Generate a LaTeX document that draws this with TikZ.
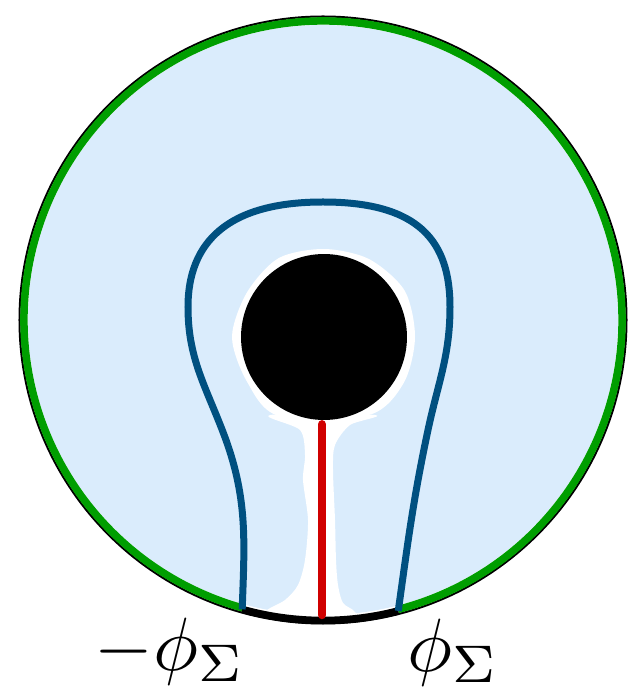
\documentclass[tikz,border=0pt]{standalone}
\definecolor{paleblue}{RGB}{218,236,252}
\definecolor{fluxblue}{RGB}{0,80,128}
\definecolor{rimgreen}{RGB}{0,158,0}
\definecolor{cutred}{RGB}{208,0,0}

\begin{document}
\begin{tikzpicture}[x=0.02cm, y=0.02cm,
    rim/.style={line width=0.15cm, draw=rimgreen},
    flux/.style={line width=0.14cm, draw=fluxblue},
    cutline/.style={line width=0.17cm, draw=cutred, line cap=round},
    lbl/.style={anchor=base, inner sep=0, scale=4.3}]
    \useasboundingbox (-323,320) rectangle (308,-372);
    % shaded region
    \fill[paleblue] (0,0) circle[radius=295];
    \begin{scope}[shift={(1,-17)}]
        \fill[white] plot[smooth cycle] coordinates {(0:91) (30:93) (60:90) (90:88) (120:91) (150:89) (180:92) (210:89) (240:91) (300:90) (330:92)};
    \end{scope}
    \fill[white] plot[smooth cycle] coordinates {(-53,-95) (-23,-110) (-18,-135) (-20,-160) (-15,-200) (-18,-240) (-25,-265) (-38,-280) (-58,-292) (-58,-310) (37,-310) (32,-292) (20,-283) (15,-265) (13,-240) (12,-200) (10,-150) (12,-125) (27,-105) (52,-95)};
    % boundary
    \draw[line width=0.04cm] (0,0) circle[radius=303.5];
    \draw[rim] (284.5:299) arc[start angle=284.5, end angle=614.4, radius=299];
    \draw[line width=0.15cm] (254.4:300.5) arc[start angle=254.4, end angle=284.5, radius=300.5];
    \node[circle, fill=black, inner sep=0, minimum size=3.32cm] (hole) at (1,-17) {};
    \coordinate (lft) at (254.4:300.5);
    \coordinate (rgt) at (284.5:300.5);
    \coordinate (cutend) at (-1,-295);
    \coordinate (cuttop) at ([yshift=-0.08cm]hole.south);
    \draw[cutline] (cuttop -| cutend) -- (cutend);
    \draw[flux] (lft) to[out=88,in=-69] (-100,-112) to[out=111,in=-90] (-135,13)
        .. controls (-135,78) and (-95,118) .. (0,118)
        .. controls (97,118) and (127,78) .. (127,13)
        to[out=-90,in=78] (105,-110) to[out=-102,in=82] (rgt);
    \node[lbl] (mphi) at (-153,-350) {$-\phi_\Sigma$};
    \node[lbl] (phi) at (130,-351) {$\phi_\Sigma$};
\end{tikzpicture}
\end{document}
